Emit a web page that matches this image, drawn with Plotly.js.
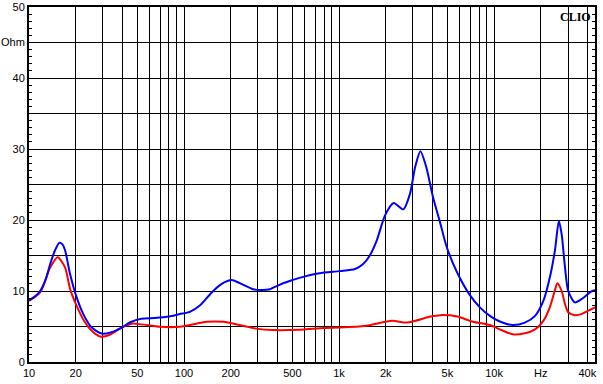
<!DOCTYPE html>
<html>
<head>
<meta charset="utf-8">
<script src="https://cdn.plot.ly/plotly-3.0.1.min.js"></script>
<style>html,body{margin:0;padding:0;background:#fff;}#chart{width:603px;height:384px;}
.gridlayer path, .minor-gridlayer path{shape-rendering:crispEdges !important;}</style>
</head>
<body>
<div id="chart"></div>
<script>
// Blue curve (impedance, Ohm) vs frequency (Hz)
const blueFreq = [10, 11, 11.8, 12.8, 13.7, 14.7, 15.7, 16.4, 17.1, 18.4, 20.3, 22.4, 25.4, 29.4, 34, 39.6, 45, 53, 65, 80, 94, 109, 127, 151, 175, 203, 229, 279, 320, 358, 415, 480, 556, 748, 1013, 1270, 1430, 1580, 1750, 1980, 2250, 2600, 2870, 3100, 3350, 3650, 4040, 4480, 4950, 5780, 6900, 8100, 9400, 10900, 13200, 15800, 18400, 20800, 22900, 24700, 26200, 27300, 28700, 30100, 33200, 36600, 42500, 44800];
const blueOhm = [8.7, 9.3, 10.0, 11.6, 13.8, 15.7, 16.8, 16.6, 15.7, 12.4, 9.1, 6.75, 4.85, 4.0, 4.2, 4.85, 5.6, 6.1, 6.2, 6.4, 6.75, 7.07, 8.0, 9.8, 11.0, 11.55, 11.1, 10.25, 10.15, 10.25, 10.9, 11.4, 11.85, 12.5, 12.8, 13.1, 13.8, 15.0, 17.1, 20.65, 22.4, 21.5, 23.7, 27.5, 29.7, 27.5, 23.2, 19.7, 16.2, 12.6, 9.6, 7.7, 6.5, 5.7, 5.2, 5.55, 6.5, 8.6, 11.9, 15.7, 19.85, 18.0, 13.3, 10.0, 8.4, 8.85, 9.95, 10.1];
// Red curve
const redFreq = [10, 11.8, 13.7, 15.3, 17.1, 18.4, 20.3, 22.4, 25.4, 28.7, 33, 39.6, 46, 53, 70, 94, 140, 180, 229, 294, 375, 556, 800, 1010, 1500, 2200, 2750, 3900, 4500, 5800, 7300, 9400, 10900, 13200, 15800, 18400, 20800, 22900, 24700, 25600, 27300, 28700, 30100, 33200, 36600, 42500, 44800];
const redOhm = [8.6, 9.8, 13.3, 14.75, 13.3, 10.3, 7.9, 6.0, 4.4, 3.6, 3.8, 4.85, 5.4, 5.3, 4.95, 4.95, 5.66, 5.66, 5.2, 4.7, 4.5, 4.55, 4.8, 4.85, 5.1, 5.8, 5.55, 6.4, 6.6, 6.4, 5.66, 5.2, 4.6, 3.9, 4.05, 4.6, 5.8, 7.7, 10.1, 11.1, 10.0, 8.15, 7.0, 6.6, 6.75, 7.45, 7.7];

// Axis ticks
const xTickVals = [10,20,30,40,50,60,70,80,90,100,200,300,400,500,600,700,800,900,1000,2000,3000,4000,5000,6000,7000,8000,9000,10000,20000,30000,40000];
const xTickText = ['10','20','','','50','','','','','100','200','','','500','','','','','1k','2k','','','5k','','','','','10k','Hz','','40k'];
const yTickVals = [0,5,10,15,20,25,30,35,40,45,50];
const yTickText = ['0','','10','','20','','30','','40','Ohm','50'];

const lineStyle = {shape: 'spline', smoothing: 0.7, width: 2};
const traces = [
  {x: redFreq, y: redOhm, type: 'scatter', mode: 'lines', line: Object.assign({color: '#ff0000'}, lineStyle), hoverinfo: 'skip'},
  {x: blueFreq, y: blueOhm, type: 'scatter', mode: 'lines', line: Object.assign({color: '#0000ff'}, lineStyle), hoverinfo: 'skip'}
];

const font = {family: 'Liberation Sans, Arial, sans-serif', size: 11, color: '#000'};
const layout = {
  width: 603, height: 384,
  margin: {l: 29, r: 8, t: 7, b: 22, pad: 0},
  paper_bgcolor: '#fff', plot_bgcolor: '#fff',
  showlegend: false,
  font: font,
  xaxis: {
    type: 'log', range: [1, Math.log10(44800)],
    tickmode: 'array', tickvals: xTickVals, ticktext: xTickText,
    showgrid: true, gridcolor: '#000', gridwidth: 1,
    showline: true, linecolor: '#000', linewidth: 2, mirror: true,
    ticks: '', zeroline: false, tickfont: font, fixedrange: true
  },
  yaxis: {
    range: [0, 50],
    tickmode: 'array', tickvals: yTickVals, ticktext: yTickText,
    showgrid: true, gridcolor: '#000', gridwidth: 1,
    showline: true, linecolor: '#000', linewidth: 2, mirror: 'ticks',
    ticks: 'inside', ticklen: 3, tickcolor: '#000', tickwidth: 1,
    minor: {dtick: 1, ticks: 'inside', ticklen: 3, tickcolor: '#000', tickwidth: 1, showgrid: false},
    zeroline: false, tickfont: font, fixedrange: true
  },
  annotations: [{
    text: '<b>CLIO</b>', xref: 'paper', yref: 'paper', x: 1, y: 1,
    xanchor: 'right', yanchor: 'top', showarrow: false, xshift: -2, yshift: -1,
    font: {family: 'Liberation Serif, DejaVu Serif, serif', size: 12, color: '#000'}
  }]
};

Plotly.newPlot('chart', traces, layout, {staticPlot: true, displayModeBar: false});
</script>
</body>
</html>
